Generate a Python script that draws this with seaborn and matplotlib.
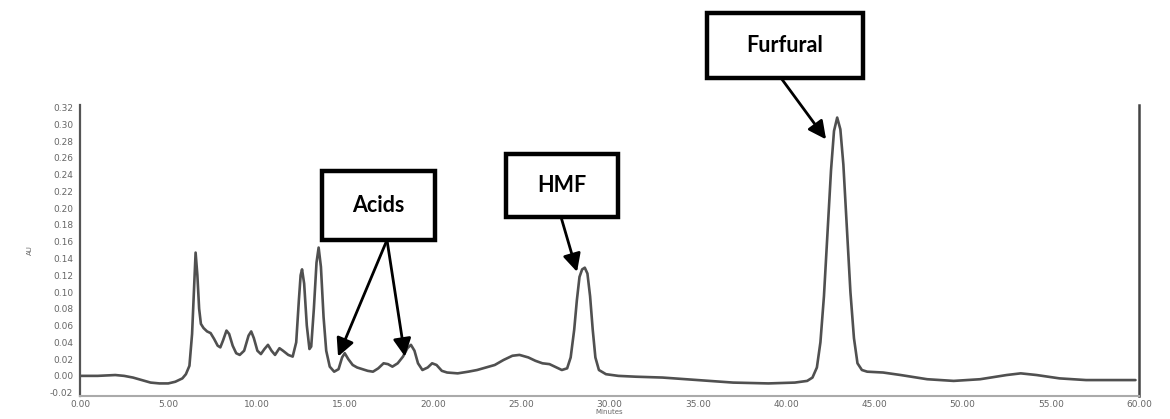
import matplotlib
matplotlib.use("Agg")
import matplotlib.pyplot as plt
from matplotlib.patches import Rectangle
import numpy as np
import pandas as pd
import seaborn as sns

# ---- data (retention time in minutes, absorbance AU) ----
time_min = [
    0.0, 1.0, 2.0, 2.5, 3.0, 3.5, 4.0, 4.5, 5.0, 5.4, 5.8, 6.0, 6.2, 6.35, 6.45,
    6.55, 6.65, 6.75, 6.85, 7.0, 7.2, 7.4, 7.6, 7.8, 7.95, 8.1, 8.3, 8.45, 8.65,
    8.85, 9.05, 9.3, 9.55, 9.7, 9.85, 10.05, 10.25, 10.45, 10.65, 10.85, 11.05,
    11.3, 11.5, 11.8, 12.05, 12.25, 12.4, 12.5, 12.58, 12.7, 12.85, 13.0, 13.1,
    13.25, 13.4, 13.52, 13.65, 13.8, 13.95, 14.15, 14.4, 14.65, 14.85, 15.0,
    15.2, 15.45, 15.7, 16.0, 16.3, 16.6, 16.9, 17.2, 17.45, 17.7, 18.0, 18.3,
    18.55, 18.75, 18.95, 19.15, 19.4, 19.7, 19.95, 20.2, 20.5, 20.8, 21.4, 22.0,
    22.5, 23.0, 23.5, 24.0, 24.5, 24.9, 25.4, 25.8, 26.2, 26.6, 27.0, 27.3,
    27.6, 27.8, 28.0, 28.15, 28.3, 28.45, 28.6, 28.75, 28.9, 29.05, 29.2, 29.4,
    29.8, 30.5, 31.5, 33.0, 35.0, 37.0, 39.0, 40.5, 41.2, 41.5, 41.75, 41.95,
    42.15, 42.35, 42.55, 42.72, 42.9, 43.08, 43.25, 43.45, 43.65, 43.85,
    44.05, 44.3, 44.6, 45.5, 46.5, 48.0, 49.5, 51.0, 52.5, 53.3, 54.2, 55.5,
    57.0, 58.5, 59.8,
]
signal_au = [
    0.000, 0.000, 0.001, 0.000, -0.002, -0.005, -0.008, -0.009, -0.009, -0.007,
    -0.003, 0.002, 0.012, 0.050, 0.100, 0.147, 0.120, 0.080, 0.062, 0.057,
    0.053, 0.051, 0.044, 0.036, 0.034, 0.042, 0.054, 0.050, 0.036, 0.027,
    0.025, 0.030, 0.048, 0.053, 0.045, 0.030, 0.026, 0.032, 0.037, 0.030,
    0.025, 0.033, 0.030, 0.025, 0.023, 0.040, 0.090, 0.120, 0.127, 0.110,
    0.060, 0.032, 0.035, 0.080, 0.135, 0.153, 0.130, 0.070, 0.030, 0.011,
    0.005, 0.008, 0.022, 0.027, 0.020, 0.013, 0.010, 0.008, 0.006, 0.005,
    0.009, 0.015, 0.014, 0.011, 0.015, 0.023, 0.033, 0.037, 0.030, 0.015,
    0.007, 0.010, 0.015, 0.013, 0.006, 0.004, 0.003, 0.005, 0.007, 0.010,
    0.013, 0.019, 0.024, 0.025, 0.022, 0.018, 0.015, 0.014, 0.010, 0.007,
    0.009, 0.022, 0.055, 0.090, 0.118, 0.127, 0.129, 0.122, 0.095, 0.055,
    0.022, 0.007, 0.002, 0.000, -0.001, -0.002, -0.005, -0.008, -0.009, -0.008,
    -0.006, -0.002, 0.010, 0.040, 0.095, 0.170, 0.245, 0.292, 0.308, 0.294,
    0.252, 0.175, 0.100, 0.045, 0.015, 0.007, 0.005, 0.004, 0.001, -0.004,
    -0.006, -0.004, 0.001, 0.003, 0.001, -0.003, -0.005, -0.005, -0.005,
]
x_ticks = [0, 5, 10, 15, 20, 25, 30, 35, 40, 45, 50, 55, 60]
y_ticks = [-0.02, 0.00, 0.02, 0.04, 0.06, 0.08, 0.10, 0.12, 0.14, 0.16,
           0.18, 0.20, 0.22, 0.24, 0.26, 0.28, 0.30, 0.32]
x_tick_labels = [f"{v:.2f}" for v in x_ticks]
y_tick_labels = [f"{v:.2f}" for v in y_ticks]

labels = ["Furfural", "HMF", "Acids"]

df = pd.DataFrame({"Minutes": time_min, "AU": signal_au})

sns.set_theme(style="white")
plt.rcParams["font.family"] = ["DejaVu Sans"]

W, H = 1170, 419
fig = plt.figure(figsize=(W / 100, H / 100), dpi=100)
ax = fig.add_axes([80 / W, 1 - 396 / H, (1139 - 80) / W, (396 - 105) / H])

sns.lineplot(data=df, x="Minutes", y="AU", ax=ax, color="#505050", lw=1.9,
             sort=True, estimator=None)

ax.set_xlim(0, 60)
ax.set_ylim(-0.024, 0.323)
ax.set_xticks(x_ticks)
ax.set_xticklabels(x_tick_labels)
ax.set_yticks(y_ticks)
ax.set_yticklabels(y_tick_labels)
ax.tick_params(axis="both", length=0, labelsize=6.5, colors="#666666")
ax.tick_params(axis="y", pad=5)
ax.tick_params(axis="x", pad=3)
ax.set_xlabel("Minutes", fontsize=5, color="#666666", labelpad=0)
ax.set_ylabel("AU", fontsize=5, color="#666666", labelpad=12)

ax.spines["top"].set_visible(False)
ax.spines["left"].set_color("#555555")
ax.spines["left"].set_linewidth(1.6)
ax.spines["right"].set_color("#444444")
ax.spines["right"].set_linewidth(1.8)
ax.spines["bottom"].set_color("#aaaaaa")
ax.spines["bottom"].set_linewidth(1.5)


def fx(px):
    return px / W


def fy(py):
    return 1 - py / H


def label_box(x0, y0, x1, y1, text):
    rect = Rectangle((fx(x0), fy(y1)), fx(x1) - fx(x0), fy(y0) - fy(y1),
                     transform=fig.transFigure, facecolor="white",
                     edgecolor="black", lw=3.2, zorder=5)
    fig.patches.append(rect)
    fig.text(fx((x0 + x1) / 2), fy((y0 + y1) / 2), text, ha="center",
             va="center", fontsize=15.5, fontweight="bold", family="Lato",
             color="black", zorder=6)


def arrow(start_px, tip_data):
    ax.annotate("", xy=tip_data, xycoords="data",
                xytext=(fx(start_px[0]), fy(start_px[1])),
                textcoords="figure fraction",
                arrowprops=dict(arrowstyle="-|>,head_length=0.9,head_width=0.45",
                                color="black", lw=2.0, shrinkA=0, shrinkB=0),
                annotation_clip=False)


label_box(707, 13, 863, 78, labels[0])
arrow((781, 78), (42.27, 0.282))

label_box(506, 154, 618, 217, labels[1])
arrow((561, 217), (28.16, 0.124))

label_box(322, 171, 435, 240, labels[2])
arrow((387, 240), (14.62, 0.023))
arrow((387, 240), (18.41, 0.023))

fig.savefig("out.png", dpi=100, facecolor="white")
